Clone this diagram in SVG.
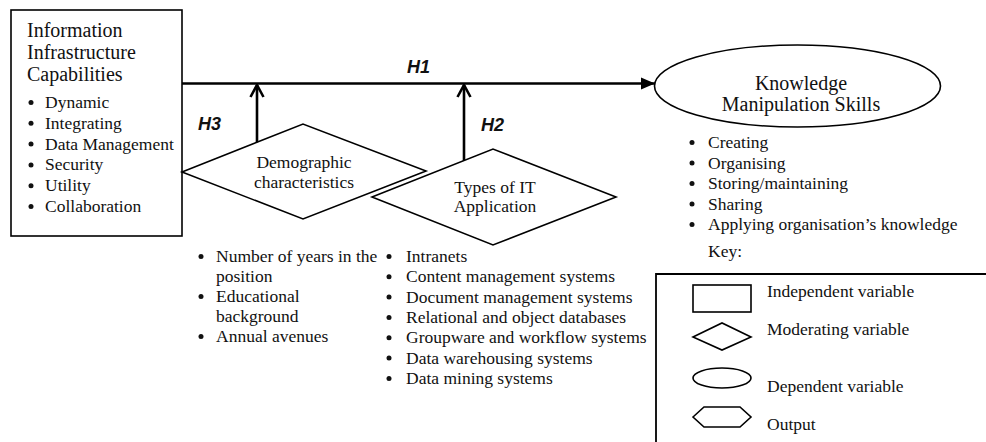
<svg xmlns="http://www.w3.org/2000/svg" width="986" height="442" viewBox="0 0 986 442">
<style>
text{font-family:"Liberation Serif","Times New Roman",serif;fill:#111}
.t20{font-size:20px}
.t17{font-size:17.5px}
.h{font-family:"Liberation Sans",Arial,sans-serif;font-weight:bold;font-style:italic;font-size:18px}
.shape{fill:#fff;stroke:#000;stroke-width:1.6}
.conn{stroke:#000;stroke-width:2.6;fill:none}
.b{fill:#111}
</style>
<defs>
<marker id="tri" viewBox="0 0 14 14" refX="14" refY="7" markerWidth="14" markerHeight="14" markerUnits="userSpaceOnUse" orient="auto">
<path d="M0,1 L14,7 L0,13 Z" fill="#000"/>
</marker>
<marker id="chev" viewBox="0 0 16 16" refX="14" refY="8" markerWidth="16" markerHeight="16" markerUnits="userSpaceOnUse" orient="auto">
<path d="M2,1.5 L14,8 L2,14.5" fill="none" stroke="#000" stroke-width="2.6"/>
</marker>
</defs>

<g id="connectors">
<line class="conn" x1="182" y1="83.5" x2="655" y2="83.5" marker-end="url(#tri)"/>
<line class="conn" x1="257" y1="143" x2="257" y2="85" marker-end="url(#chev)"/>
<line class="conn" x1="464" y1="161" x2="464" y2="85" marker-end="url(#chev)"/>
<text class="h" x="407" y="73">H1</text>
<text class="h" x="198" y="130">H3</text>
<text class="h" x="481" y="131">H2</text>
</g>

<g id="node-infrastructure">
<rect class="shape" x="11" y="10" width="171" height="226"/>
<text class="t20" x="27" y="37">Information</text>
<text class="t20" x="27" y="59">Infrastructure</text>
<text class="t20" x="27" y="81">Capabilities</text>
<g class="b">
<circle cx="31" cy="102.5" r="2.5"/><circle cx="31" cy="123.3" r="2.5"/><circle cx="31" cy="144.1" r="2.5"/>
<circle cx="31" cy="164.9" r="2.5"/><circle cx="31" cy="185.7" r="2.5"/><circle cx="31" cy="206.5" r="2.5"/>
</g>
<g class="t17">
<text x="45" y="108">Dynamic</text>
<text x="45" y="128.8">Integrating</text>
<text x="45" y="149.6">Data Management</text>
<text x="45" y="170.4">Security</text>
<text x="45" y="191.2">Utility</text>
<text x="45" y="212">Collaboration</text>
</g>
</g>

<g id="node-demographic">
<polygon class="shape" points="182,172 303,124 426,171 303,219"/>
<text class="t17" x="304" y="168" text-anchor="middle">Demographic</text>
<text class="t17" x="304" y="188" text-anchor="middle">characteristics</text>
</g>

<g id="node-it-application">
<polygon class="shape" points="372,197 493,149 616,197 493,245"/>
<text class="t17" x="495" y="193" text-anchor="middle">Types of IT</text>
<text class="t17" x="495" y="212" text-anchor="middle">Application</text>
</g>

<g id="node-knowledge">
<ellipse class="shape" cx="797.5" cy="86" rx="143" ry="41"/>
<text class="t20" x="801" y="90" text-anchor="middle">Knowledge</text>
<text class="t20" x="801" y="111" text-anchor="middle">Manipulation Skills</text>
</g>

<g id="list-demographic">
<g class="b"><circle cx="201" cy="256.5" r="2.5"/><circle cx="201" cy="296.5" r="2.5"/><circle cx="201" cy="336.5" r="2.5"/></g>
<g class="t17">
<text x="216" y="262">Number of years in the</text>
<text x="216" y="282">position</text>
<text x="216" y="302">Educational</text>
<text x="216" y="322">background</text>
<text x="216" y="342">Annual avenues</text>
</g>
</g>

<g id="list-it">
<g class="b">
<circle cx="389" cy="256.5" r="2.5"/><circle cx="389" cy="276.8" r="2.5"/><circle cx="389" cy="297.1" r="2.5"/>
<circle cx="389" cy="317.5" r="2.5"/><circle cx="389" cy="337.8" r="2.5"/><circle cx="389" cy="358.1" r="2.5"/>
<circle cx="389" cy="378.5" r="2.5"/>
</g>
<g class="t17">
<text x="406" y="262">Intranets</text>
<text x="406" y="282.3">Content management systems</text>
<text x="406" y="302.6">Document management systems</text>
<text x="406" y="323">Relational and object databases</text>
<text x="406" y="343.3">Groupware and workflow systems</text>
<text x="406" y="363.6">Data warehousing systems</text>
<text x="406" y="384">Data mining systems</text>
</g>
</g>

<g id="list-knowledge">
<g class="b">
<circle cx="692" cy="142.5" r="2.5"/><circle cx="692" cy="163" r="2.5"/><circle cx="692" cy="183.5" r="2.5"/>
<circle cx="692" cy="204" r="2.5"/><circle cx="692" cy="224.5" r="2.5"/>
</g>
<g class="t17">
<text x="708" y="148">Creating</text>
<text x="708" y="168.5">Organising</text>
<text x="708" y="189">Storing/maintaining</text>
<text x="708" y="209.5">Sharing</text>
<text x="708" y="230">Applying organisation’s knowledge</text>
<text x="708" y="257">Key:</text>
</g>
</g>

<g id="key">
<polyline points="656,443 656,274 987,274" fill="none" stroke="#000" stroke-width="1.8"/>
<rect class="shape" x="693" y="285" width="58" height="27"/>
<text class="t17" x="767" y="297">Independent variable</text>
<polygon class="shape" points="693,337 722,323 751,337 722,350"/>
<text class="t17" x="767" y="335">Moderating variable</text>
<ellipse class="shape" cx="722" cy="378" rx="29" ry="10"/>
<text class="t17" x="767" y="392">Dependent variable</text>
<polygon class="shape" points="693,417 704,407 740,407 751,417 740,427 704,427"/>
<text class="t17" x="767" y="430">Output</text>
</g>
</svg>
